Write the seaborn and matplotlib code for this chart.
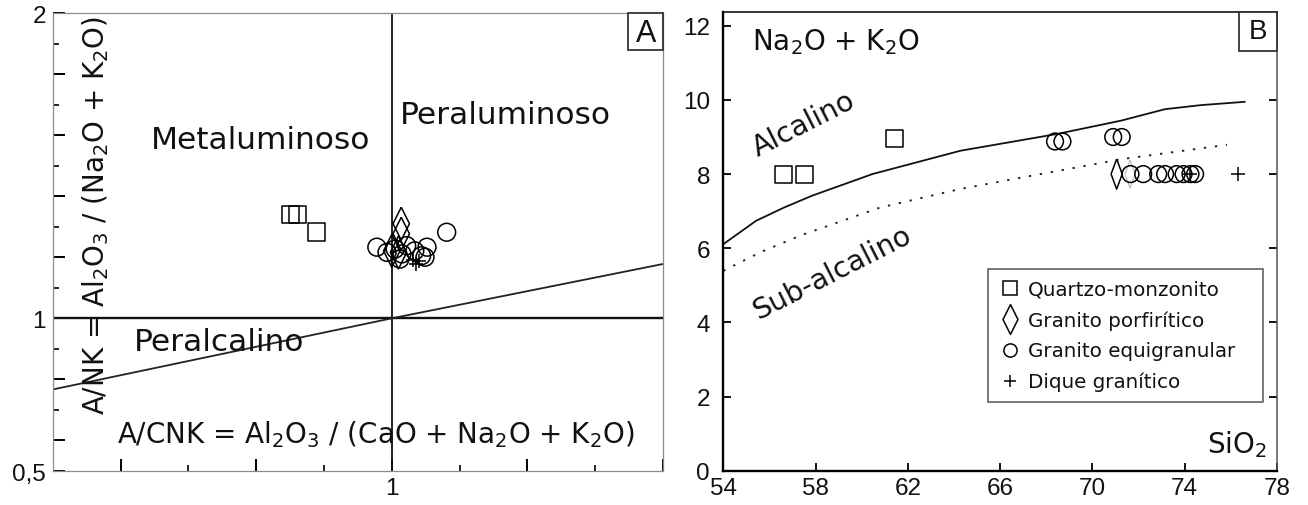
import matplotlib
matplotlib.use("Agg")
import matplotlib.pyplot as plt
import seaborn as sns
from matplotlib.lines import Line2D
from matplotlib.patches import Rectangle
from matplotlib.ticker import FixedLocator, FixedFormatter

# ---------------- Panel A data (A/CNK vs A/NK) ----------------
a_qm_x = [0.851, 0.861, 0.889]
a_qm_y = [1.341, 1.341, 1.283]
a_gp_x = [1.014, 1.014, 1.000, 1.010]
a_gp_y = [1.310, 1.277, 1.221, 1.216]
a_ge_x = [0.978, 1.081, 1.005, 1.015, 1.022, 1.034, 1.044, 1.052, 1.049, 1.012, 0.993]
a_ge_y = [1.233, 1.282, 1.227, 1.211, 1.238, 1.221, 1.205, 1.233, 1.200, 1.194, 1.216]
a_dg_x = [1.032, 1.040, 1.036]
a_dg_y = [1.190, 1.188, 1.178]

a_diag_x = [0.5, 1.0, 1.4]
a_diag_y = [0.767, 1.0, 1.178]
a_hline_x = [0.5, 1.4]
a_hline_y = [1.0, 1.0]
a_vline_x = [1.0, 1.0]
a_vline_y = [0.5, 2.0]

a_xticks = [0.6, 0.8, 1.0, 1.2, 1.4]
a_xticklabels = ["", "", "1", "", ""]
a_xminor = [0.7, 0.9, 1.1, 1.3]
a_yticks = [0.5, 0.6, 0.8, 1.0, 1.2, 1.4, 1.6, 1.8, 2.0]
a_yticklabels = ["0,5", "", "", "1", "", "", "", "", "2"]
a_yminor = [0.7, 0.9, 1.1, 1.3, 1.5, 1.7, 1.9]

# ---------------- Panel B data (SiO2 vs Na2O+K2O) ----------------
b_qm_x = [56.6, 57.5, 61.4]
b_qm_y = [8.0, 8.0, 8.95]
b_gp_x = [71.05]
b_gp_y = [8.0]
b_gp_faint_x = [71.63]
b_gp_faint_y = [8.0]
b_ge_x = [68.38, 68.70, 70.90, 71.27, 71.65, 72.20, 72.85, 73.15, 73.65, 73.95, 74.25, 74.45]
b_ge_y = [8.88, 8.88, 9.00, 9.00, 8.0, 8.0, 8.0, 8.0, 8.0, 8.0, 8.0, 8.0]
b_dg_x = [74.23, 76.30]
b_dg_y = [8.0, 8.0]

b_alk_x = [54.0, 55.42, 56.64, 57.86, 60.46, 64.28, 68.45, 71.23, 73.14, 74.70, 76.61]
b_alk_y = [6.11, 6.74, 7.10, 7.42, 8.00, 8.63, 9.08, 9.44, 9.75, 9.86, 9.95]
b_sub_x = [54.0, 55.6, 57.33, 60.81, 64.28, 67.75, 71.23, 75.83]
b_sub_y = [5.39, 5.89, 6.34, 7.10, 7.60, 8.00, 8.40, 8.79]

b_xticks = [54, 58, 62, 66, 70, 74, 78]
b_yticks = [0, 2, 4, 6, 8, 10, 12]

legend_labels = ["Quartzo-monzonito", "Granito porfirítico",
                 "Granito equigranular", "Dique granítico"]

# ---------------- style ----------------
sns.set_theme(style="white")
plt.rcParams["font.family"] = ["Liberation Sans", "DejaVu Sans"]
plt.rcParams["mathtext.fontset"] = "dejavusans"
TXT = "DejaVu Sans"
TICKSIZE = 17.5

diamond = [(0, 1), (0.5, 0), (0, -1), (-0.5, 0), (0, 1)]
diamond_n = [(0, 1), (0.37, 0), (0, -1), (-0.37, 0), (0, 1)]

W, H = 1308, 506
fig = plt.figure(figsize=(W / 100, H / 100), dpi=100)
axA = fig.add_axes([52.7 / W, 1 - 472 / H, (663 - 52.7) / W, (472 - 14) / H])
axB = fig.add_axes([723.3 / W, 1 - 471.7 / H, (1277 - 723.3) / W, (471.7 - 12.7) / H])

# ================= Panel A =================
ax = axA
sns.lineplot(x=a_hline_x, y=a_hline_y, ax=ax, color="#111111", lw=1.7, estimator=None, sort=False)
sns.lineplot(x=a_vline_x, y=a_vline_y, ax=ax, color="#111111", lw=1.3, estimator=None, sort=False)
sns.lineplot(x=a_diag_x, y=a_diag_y, ax=ax, color="#222222", lw=1.3, estimator=None, sort=False)

mk = dict(facecolors="none", edgecolors="black", linewidths=1.1, zorder=3)
sns.scatterplot(x=a_qm_x, y=a_qm_y, ax=ax, marker="s", s=155, **mk)
sns.scatterplot(x=a_gp_x, y=a_gp_y, ax=ax, marker=diamond, s=560, **mk)
sns.scatterplot(x=a_ge_x, y=a_ge_y, ax=ax, marker="o", s=165, **mk)
sns.scatterplot(x=a_dg_x, y=a_dg_y, ax=ax, marker="+", s=110, color="black", linewidths=1.1, zorder=3)

ax.set_xlim(0.5, 1.4)
ax.set_ylim(0.5, 2.0)
ax.xaxis.set_major_locator(FixedLocator(a_xticks))
ax.xaxis.set_major_formatter(FixedFormatter(a_xticklabels))
ax.xaxis.set_minor_locator(FixedLocator(a_xminor))
ax.yaxis.set_major_locator(FixedLocator(a_yticks))
ax.yaxis.set_major_formatter(FixedFormatter(a_yticklabels))
ax.yaxis.set_minor_locator(FixedLocator(a_yminor))
ax.tick_params(which="major", direction="in", length=8.5, width=1.4, color="black",
               labelsize=TICKSIZE, labelcolor="#111111", bottom=True, left=True)
ax.tick_params(which="minor", direction="in", length=4.2, width=1.2, color="black",
               bottom=True, left=True)
ax.tick_params(axis="x", which="major", pad=4.5)
ax.tick_params(axis="y", which="major", pad=5.0)
for sp in ax.spines.values():
    sp.set_color("#8c8c8c")
    sp.set_linewidth(0.9)
ax.set_xlabel("")
ax.set_ylabel("")

ax.text(0.645, 1.559, "Metaluminoso", fontfamily=TXT, fontsize=22.5, color="#111111",
        ha="left", va="baseline")
ax.text(1.0125, 1.640, "Peraluminoso", fontfamily=TXT, fontsize=22.5, color="#111111",
        ha="left", va="baseline")
ax.text(0.619, 0.896, "Peralcalino", fontfamily=TXT, fontsize=22.5, color="#111111",
        ha="left", va="baseline")
ax.text(0.595, 0.594, r"A/CNK = Al$_2$O$_3$ / (CaO + Na$_2$O + K$_2$O)", fontfamily=TXT,
        fontsize=20, color="#111111", ha="left", va="baseline")
ax.text(0.5757, 0.687, r"A/NK = Al$_2$O$_3$ / (Na$_2$O + K$_2$O)", fontfamily=TXT,
        fontsize=20, color="#111111", ha="left", va="baseline", rotation=90,
        rotation_mode="anchor")

ax.add_patch(Rectangle((0.9431, 0.9199), 0.0569, 0.0801, transform=ax.transAxes,
                       facecolor="white", edgecolor="#333333", lw=1.3, zorder=5, clip_on=False))
ax.text(0.9718, 0.9574, "A", transform=ax.transAxes, fontsize=22, color="#111111",
        ha="center", va="center", zorder=6)

# ================= Panel B =================
ax = axB
sns.lineplot(x=b_alk_x, y=b_alk_y, ax=ax, color="#111111", lw=1.3, estimator=None, sort=False)
sns.lineplot(x=b_sub_x, y=b_sub_y, ax=ax, color="#222222", lw=1.4, estimator=None, sort=False,
             linestyle=(0, (1.2, 4.5)))

sns.scatterplot(x=b_qm_x, y=b_qm_y, ax=ax, marker="s", s=150, **mk)
sns.scatterplot(x=b_gp_faint_x, y=b_gp_faint_y, ax=ax, marker=diamond_n, s=400,
                facecolors="none", edgecolors="#c0c0c0", linewidths=0.9, zorder=2)
sns.scatterplot(x=b_gp_x, y=b_gp_y, ax=ax, marker=diamond_n, s=470, **mk)
sns.scatterplot(x=b_ge_x, y=b_ge_y, ax=ax, marker="o", s=145, **mk)
sns.scatterplot(x=b_dg_x, y=b_dg_y, ax=ax, marker="+", s=95, color="black", linewidths=1.1, zorder=3)

ax.set_xlim(54, 78)
ax.set_ylim(0, 12.38)
ax.xaxis.set_major_locator(FixedLocator(b_xticks))
ax.yaxis.set_major_locator(FixedLocator(b_yticks))
ax.tick_params(direction="in", length=5.5, width=1.3, color="black", labelsize=TICKSIZE,
               labelcolor="#111111", bottom=True, left=True, right=True)
ax.tick_params(axis="x", pad=4.5)
ax.tick_params(axis="y", pad=9.5)
ax.spines["left"].set_color("black")
ax.spines["left"].set_linewidth(1.7)
ax.spines["bottom"].set_color("black")
ax.spines["bottom"].set_linewidth(1.7)
ax.spines["top"].set_color("black")
ax.spines["top"].set_linewidth(1.1)
ax.spines["right"].set_color("#555555")
ax.spines["right"].set_linewidth(1.1)
ax.set_xlabel("")
ax.set_ylabel("")

ax.text(55.25, 11.37, r"Na$_2$O + K$_2$O", fontfamily=TXT, fontsize=20, color="#111111",
        ha="left", va="baseline")
ax.text(77.57, 0.496, r"SiO$_2$", fontfamily=TXT, fontsize=20, color="#111111",
        ha="right", va="baseline")
ax.text(57.51, 9.35, "Alcalino", fontfamily=TXT, fontsize=20.5, color="#111111",
        ha="center", va="center", rotation=27, rotation_mode="anchor")
ax.text(58.72, 5.35, "Sub-alcalino", fontfamily=TXT, fontsize=20.5, color="#111111",
        ha="center", va="center", rotation=27, rotation_mode="anchor")

ax.add_patch(Rectangle((0.9319, 0.915), 0.0681, 0.085, transform=ax.transAxes,
                       facecolor="white", edgecolor="#333333", lw=1.3, zorder=5, clip_on=False))
ax.text(0.966, 0.958, "B", transform=ax.transAxes, fontsize=20, color="#111111",
        ha="center", va="center", zorder=6)

handles = [
    Line2D([], [], marker="s", ls="none", mfc="none", mec="black", ms=10, mew=1.1),
    Line2D([], [], marker=diamond, ls="none", mfc="none", mec="black", ms=21.5, mew=1.1),
    Line2D([], [], marker="o", ls="none", mfc="none", mec="black", ms=9.5, mew=1.1),
    Line2D([], [], marker="+", ls="none", color="black", ms=8.5, mew=1.1),
]
leg = ax.legend(handles, legend_labels, loc="upper left",
                bbox_to_anchor=(0.4772, 0.0, 0.4976, 0.4394), mode="expand",
                borderaxespad=0, prop={"family": TXT, "size": 14.3},
                frameon=True, fancybox=False, framealpha=1, edgecolor="#555555",
                borderpad=0.55, labelspacing=0.58, handlelength=1.17,
                handletextpad=0.32, numpoints=1)
leg.get_frame().set_linewidth(1.1)
for t in leg.get_texts():
    t.set_color("#111111")

fig.savefig("out.png", dpi=100)
